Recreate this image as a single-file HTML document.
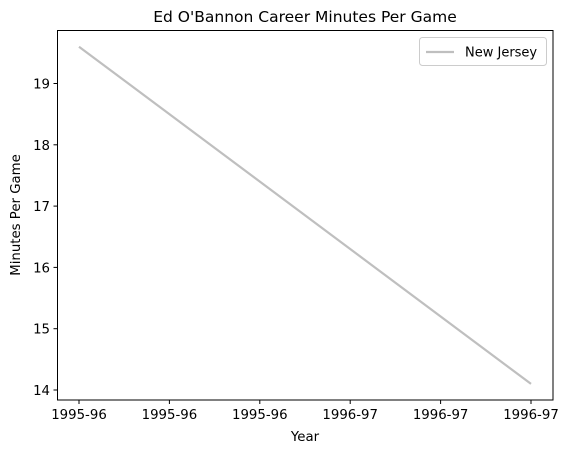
<!DOCTYPE html>
<html><head><meta charset="utf-8"><style>
body{margin:0;background:#fff;}
text{font-family:"DejaVu Sans","Liberation Sans",sans-serif;fill:#000;}
</style></head><body>
<svg id="chart" width="569" height="453">
<text x="305" y="22" font-size="15.5" text-anchor="middle">Ed O'Bannon Career Minutes Per Game</text>
<rect x="57.5" y="30.5" width="495.5" height="369.5" fill="none" stroke="#000" stroke-width="1"/>
<g id="xt"></g><g id="yt"></g><g id="lines"></g>
<text x="305" y="441" font-size="13.3" text-anchor="middle">Year</text>
<text transform="translate(20,215) rotate(-90)" font-size="13.3" text-anchor="middle">Minutes Per Game</text>
<g>
<rect x="419.5" y="37.5" width="127" height="28" rx="3" fill="#fff" stroke="#ccc"/>
<line x1="426" y1="52" x2="454" y2="52" stroke="#bfbfbf" stroke-width="2.2"/>
<text x="465" y="56.5" font-size="13">New Jersey</text>
</g>
</svg>
<script>
const xTickLabels=["1995-96","1995-96","1995-96","1996-97","1996-97","1996-97"];
const xIdx=[0,5];
const values=[19.6,14.1];
const yTicks=[14,15,16,17,18,19];
const X=i=>79+i*(531-79)/5;
const Y=v=>390-(v-14)*(390-83.5)/5;
const NS="http://www.w3.org/2000/svg";
function mk(t,a,p){const e=document.createElementNS(NS,t);for(const k in a)e.setAttribute(k,a[k]);p.appendChild(e);return e;}
const xt=document.getElementById('xt'),yt=document.getElementById('yt'),lg=document.getElementById('lines');
xTickLabels.forEach((l,i)=>{
 const t=mk('line',{x1:X(i),x2:X(i),y1:400,y2:404,stroke:'#000'},xt);
 
 
 const tx=mk('text',{x:X(i),y:419,'font-size':13.3,'text-anchor':'middle'},xt);tx.textContent=l;
 
 
});
yTicks.forEach(v=>{
 const t=mk('line',{x1:53.5,x2:57.5,y1:Y(v),y2:Y(v),stroke:'#000'},yt);
 
 
 const tx=mk('text',{x:50,y:Y(v)+5,'font-size':13.3,'text-anchor':'end'},yt);tx.textContent=v;
 
 
});
const pts=values.map((v,i)=>X(xIdx[i])+','+Y(v)).join(' ');
const pl=mk('polyline',{points:pts,fill:'none',stroke:'#bfbfbf','stroke-width':2.2},lg);


</script>
</body></html>
